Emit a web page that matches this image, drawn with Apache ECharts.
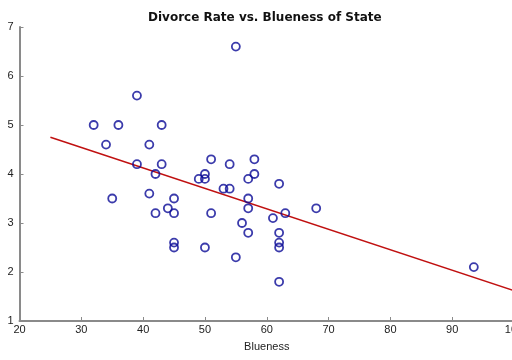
<!DOCTYPE html>
<html>
<head>
<meta charset="utf-8">
<script src="https://cdn.jsdelivr.net/npm/echarts@6/dist/echarts.min.js"></script>
<style>html,body{margin:0;padding:0;background:#fff;}#c{width:512px;height:360px;}</style>
</head>
<body>
<div id="c"></div>
<script>
const blueness = [55,39,32,36,43,34,41,39,43,51,54,58,42,50,49,50,58,57,35,41,45,44,42,45,51,53,54,57,57,56,57,45,45,50,55,62,68,63,61,62,62,62,62,93.5];
const divorceRate = [6.6,5.6,5.0,5.0,5.0,4.6,4.6,4.2,4.2,4.3,4.2,4.3,4.0,4.0,3.9,3.9,4.0,3.9,3.5,3.6,3.5,3.3,3.2,3.2,3.2,3.7,3.7,3.5,3.3,3.0,2.8,2.6,2.5,2.5,2.3,3.8,3.3,3.2,3.1,2.8,2.6,2.5,1.8,2.1];
const fitX = [25, 100];
const fitY = [4.75, 1.62];
const xTicks = [20,30,40,50,60,70,80,90,100];
const yTicks = [1,2,3,4,5,6,7];
const titleText = 'Divorce Rate vs. Blueness of State';
const xName = 'Blueness';

const chart = echarts.init(document.getElementById('c'), null, {renderer:'canvas'});
const axisGrey = '#8a8a8a';
chart.setOption({
  animation: false,
  backgroundColor: '#fff',
  title: {
    text: titleText, left: 143, top: 7,
    textStyle: {fontFamily: 'DejaVu Sans', fontWeight: 'bold', fontSize: 12, color: '#111'}
  },
  grid: {left: 19.5, right: -2, top: 27, bottom: 39, containLabel: false, outerBoundsMode: 'none'},
  xAxis: {
    type: 'value', min: xTicks[0], max: xTicks[xTicks.length-1], interval: 10,
    name: xName, nameLocation: 'middle', nameGap: 20,
    nameTextStyle: {fontFamily: 'Liberation Sans', fontSize: 11, color: '#222'},
    axisLine: {show: true, lineStyle: {color: axisGrey, width: 2}},
    axisTick: {show: true, inside: true, length: 4, lineStyle: {color: axisGrey, width: 1}},
    axisLabel: {fontFamily: 'Liberation Sans', fontSize: 11, color: '#222', margin: 3},
    splitLine: {show: false}
  },
  yAxis: {
    type: 'value', min: yTicks[0], max: yTicks[yTicks.length-1], interval: 1,
    axisLine: {show: true, lineStyle: {color: axisGrey, width: 2}},
    axisTick: {show: true, inside: true, length: 4, lineStyle: {color: axisGrey, width: 1}},
    axisLabel: {fontFamily: 'Liberation Sans', fontSize: 11, color: '#222', margin: 6},
    splitLine: {show: false}
  },
  series: [
    {
      type: 'line',
      data: fitX.map((x, i) => [x, fitY[i]]),
      showSymbol: false,
      lineStyle: {color: '#c01010', width: 1.5},
      z: 1
    },
    {
      type: 'scatter',
      data: blueness.map((x, i) => [x, divorceRate[i]]),
      symbol: 'circle',
      symbolSize: 8,
      itemStyle: {color: 'rgba(0,0,0,0)', borderColor: '#0a0a96', borderWidth: 1.8},
      z: 2
    }
  ]
});
</script>
</body>
</html>
